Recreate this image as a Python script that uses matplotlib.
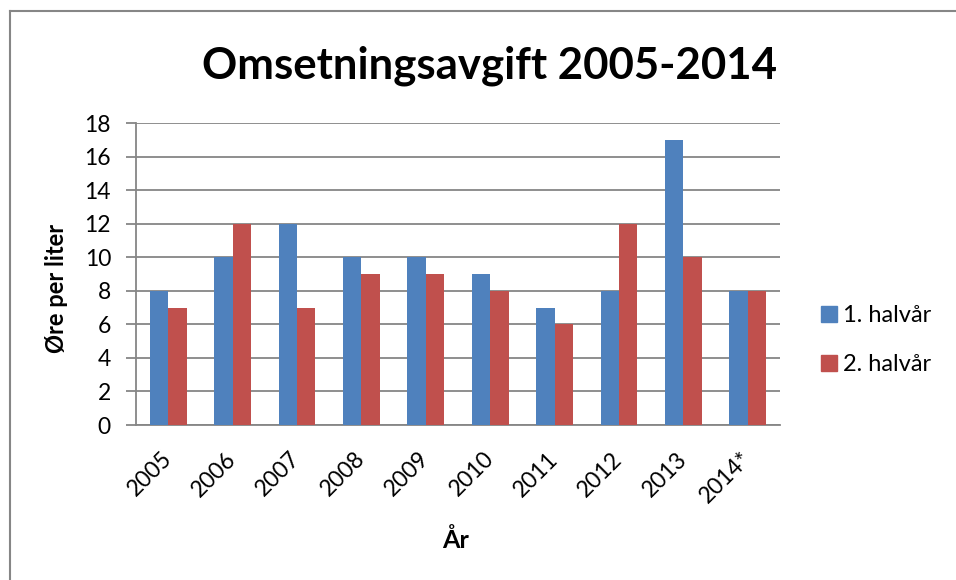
import numpy as np
import matplotlib.pyplot as plt
from matplotlib.lines import Line2D

plt.rcParams['font.family'] = ['Lato', 'DejaVu Sans']

years = ['2005', '2006', '2007', '2008', '2009', '2010', '2011', '2012', '2013', '2014*']
first_half = [8, 10, 12, 10, 10, 9, 7, 8, 17, 8]
second_half = [7, 12, 7, 9, 9, 8, 6, 12, 10, 8]
series_names = ['1. halvår', '2. halvår']
yticks = [0, 2, 4, 6, 8, 10, 12, 14, 16, 18]

blue = '#4F81BD'
red = '#C0504D'
grid_col = '#868686'

fig = plt.figure(figsize=(9.56, 5.8), dpi=100)
ax = fig.add_axes([136 / 956, 1 - 425 / 580, 644 / 956, 302 / 580])

x = np.arange(len(years))
w = 1 / 3.5
ax.bar(x - w / 2, first_half, w, color=blue, label=series_names[0], zorder=3)
ax.bar(x + w / 2, second_half, w, color=red, label=series_names[1], zorder=3)

ax.set_xlim(-0.5, len(years) - 0.5)
ax.set_ylim(0, 18)
ax.set_yticks(yticks)
ax.yaxis.grid(True, color=grid_col, linewidth=1.3, zorder=0)
ax.set_axisbelow(True)
for s in ['top', 'right']:
    ax.spines[s].set_visible(False)
ax.spines['left'].set_color(grid_col)
ax.spines['bottom'].set_color(grid_col)
ax.spines['left'].set_linewidth(1.3)
ax.spines['bottom'].set_linewidth(1.3)
ax.tick_params(axis='y', length=7, width=1.3, color=grid_col, labelsize=16.5, pad=11)
ax.tick_params(axis='x', length=0, labelsize=16.5, pad=22)
ax.set_xticks(x)
ax.set_xticklabels(years, rotation=45, ha='right', va='center', rotation_mode='anchor')

ax.set_ylabel('Øre per liter', fontsize=17, fontweight='bold', va='center')
ax.yaxis.set_label_coords(-(136 - 57) / 644, (425 - 288) / 302)
ax.set_xlabel('År', fontsize=18, fontweight='bold')
ax.xaxis.set_label_coords((456 - 136) / 644, -(540 - 425) / 302)
ax.xaxis.label.set_va('center')

fig.suptitle('Omsetningsavgift 2005-2014', x=490 / 956, y=1 - 66 / 580, va='center',
             fontsize=31.5, fontweight='bold')

handles = [Line2D([], [], marker='s', linestyle='', markersize=11, color=blue),
           Line2D([], [], marker='s', linestyle='', markersize=11, color=red)]
fig.legend(handles, series_names, loc='center left', bbox_to_anchor=(796 / 956, 1 - 340 / 580),
           frameon=False, fontsize=17, handlelength=1.0, handletextpad=0.1, labelspacing=1.2)

# chart frame
fig.add_artist(Line2D([10 / 956, 1], [1 - 11 / 580, 1 - 11 / 580], color=grid_col, linewidth=1.5))
fig.add_artist(Line2D([10 / 956, 10 / 956], [0, 1 - 11 / 580], color=grid_col, linewidth=1.5))

fig.savefig('out.png', dpi=100)
